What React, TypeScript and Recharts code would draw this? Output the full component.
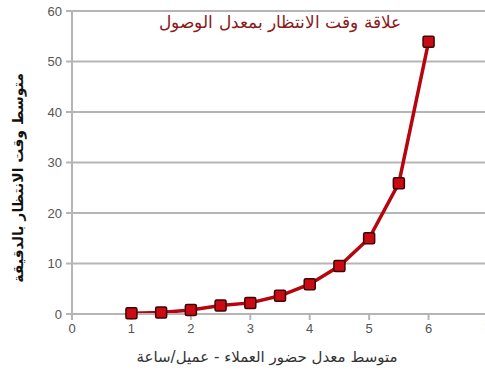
import React from 'react';
import { LineChart, Line, XAxis, YAxis, CartesianGrid } from 'recharts';

// Arrival rate (customers/hour) and mean waiting time (minutes)
const arrivalRates = [1, 1.5, 2, 2.5, 3, 3.5, 4, 4.5, 5, 5.5, 6];
const waitMinutes = [0.15, 0.3, 0.8, 1.7, 2.2, 3.6, 5.9, 9.5, 15, 25.9, 53.9];
const xTicks = [0, 1, 2, 3, 4, 5, 6, 7];
const yTicks = [0, 10, 20, 30, 40, 50, 60];

const titleText = 'علاقة وقت الانتظار بمعدل الوصول';
const yLabelText = 'متوسط وقت الانتظار بالدقيقة';
const xLabelText = 'متوسط معدل حضور العملاء - عميل/ساعة';

const data = arrivalRates.map((x, i) => ({ x, y: waitMinutes[i] }));

const SquareDot = (props: any) => {
  const { cx, cy } = props;
  if (cx == null || cy == null) return null;
  const s = 11;
  return (
    <rect
      x={cx - s / 2}
      y={cy - s / 2}
      width={s}
      height={s}
      rx={1.5}
      fill="#cc0a14"
      stroke="#3a0505"
      strokeWidth={1.5}
    />
  );
};

const tickStyle = { fill: '#555', fontSize: 13, fontFamily: 'Liberation Sans, Arial, sans-serif' };

export default function App() {
  return (
    <div style={{ position: 'absolute', left: 0, top: 0, width: 485, height: 379, overflow: 'hidden', background: '#fff' }}>
      <LineChart
        width={500}
        height={379}
        data={data}
        margin={{ top: 11, right: 12, bottom: 0, left: 0 }}
      >
        <CartesianGrid vertical={false} stroke="#b5b5b5" strokeWidth={2} />
        <XAxis
          dataKey="x"
          type="number"
          domain={[0, 7]}
          ticks={xTicks}
          stroke="#b5b5b5"
          strokeWidth={2}
          tickSize={6}
          tick={tickStyle}
          tickMargin={4}
          height={65}
        />
        <YAxis
          type="number"
          domain={[0, 60]}
          ticks={yTicks}
          stroke="#b5b5b5"
          strokeWidth={2}
          tickSize={6}
          tick={tickStyle}
          tickMargin={4}
          width={72}
        />
        <Line
          type="linear"
          dataKey="y"
          stroke="#b5060f"
          strokeWidth={3.5}
          dot={<SquareDot />}
          isAnimationActive={false}
        />
      </LineChart>
      <div
        dir="rtl"
        style={{
          position: 'absolute',
          left: 150,
          width: 260,
          top: 12,
          textAlign: 'center',
          color: '#8c1a1a',
          fontSize: 17,
          fontFamily: 'DejaVu Serif, serif',
          whiteSpace: 'nowrap',
        }}
      >
        {titleText}
      </div>
      <div
        dir="rtl"
        style={{
          position: 'absolute',
          left: 18,
          top: 178,
          transform: 'translate(-50%, -50%) rotate(-90deg)',
          color: '#111',
          fontSize: 14,
          fontWeight: 'bold',
          fontFamily: 'DejaVu Sans, sans-serif',
          whiteSpace: 'nowrap',
        }}
      >
        {yLabelText}
      </div>
      <div
        dir="rtl"
        style={{
          position: 'absolute',
          left: 267,
          top: 357,
          transform: 'translate(-50%, -50%)',
          color: '#333',
          fontSize: 15,
          fontFamily: 'DejaVu Sans, sans-serif',
          whiteSpace: 'nowrap',
        }}
      >
        {xLabelText}
      </div>
    </div>
  );
}
